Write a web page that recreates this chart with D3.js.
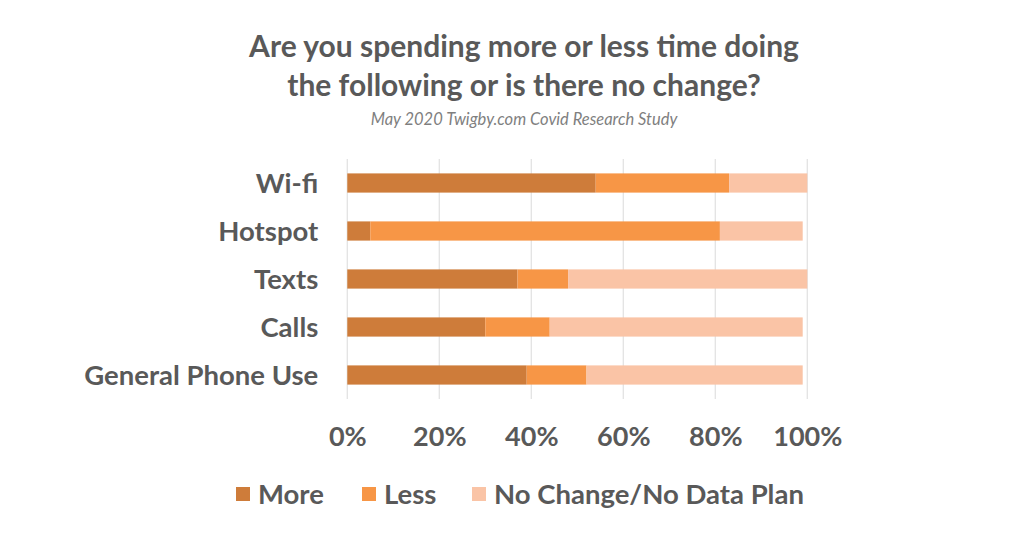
<!DOCTYPE html>
<html>
<head>
<meta charset="utf-8">
<script src="https://cdn.jsdelivr.net/npm/d3@7"></script>
<style>
  html, body { margin: 0; padding: 0; background: #fff; }
  svg { display: block; }
  text { font-family: Lato, "Open Sans", sans-serif; fill: #595959; }
</style>
</head>
<body>
<svg id="chart" width="1024" height="536"></svg>
<script>
const categories = ["Wi-fi", "Hotspot", "Texts", "Calls", "General Phone Use"];
const seriesNames = ["More", "Less", "No Change/No Data Plan"];
const moreValues = [54, 5, 37, 30, 39];
const lessValues = [29, 76, 11, 14, 13];
const noChangeValues = [17, 18, 52, 55, 47];
const tickValues = [0, 20, 40, 60, 80, 100];
const colors = ["#CE7C3A", "#F79646", "#FAC4A6"];

const svg = d3.select("#chart");
const plotLeft = 347.3, plotRight = 807.3, plotTop = 159, plotBottom = 399;

// Titles
svg.append("text").attr("x", 524).attr("y", 57).attr("text-anchor", "middle")
  .style("font-size", "30px").style("font-weight", "700")
  .text("Are you spending more or less time doing");
svg.append("text").attr("x", 524).attr("y", 96).attr("text-anchor", "middle")
  .style("font-size", "30px").style("font-weight", "700")
  .text("the following or is there no change?");
svg.append("text").attr("x", 524).attr("y", 125).attr("text-anchor", "middle")
  .style("font-size", "16.5px").style("font-style", "italic").style("fill", "#7f7f7f")
  .text("May 2020 Twigby.com Covid Research Study");

const x = d3.scaleLinear().domain([0, 100]).range([plotLeft, plotRight]);
const y = d3.scaleBand().domain(categories).range([plotTop, plotBottom])
  .paddingInner(0.6).paddingOuter(0.3);

// gridlines
svg.append("g").selectAll("line").data(tickValues).join("line")
  .attr("x1", d => x(d)).attr("x2", d => x(d))
  .attr("y1", plotTop).attr("y2", plotBottom)
  .attr("stroke", "#e3e3e3").attr("stroke-width", 1.3);

const rows = categories.map((c, i) => ({
  cat: c, More: moreValues[i], Less: lessValues[i], "No Change/No Data Plan": noChangeValues[i]
}));
const stack = d3.stack().keys(seriesNames)(rows);

svg.append("g").selectAll("g").data(stack).join("g")
  .attr("fill", (d, i) => colors[i])
  .selectAll("rect").data(d => d).join("rect")
  .attr("x", d => x(d[0]))
  .attr("width", d => x(d[1]) - x(d[0]))
  .attr("y", d => y(d.data.cat))
  .attr("height", y.bandwidth());

// category axis
const yAxis = svg.append("g").attr("transform", `translate(${plotLeft - 29},0)`)
  .call(d3.axisLeft(y).tickSize(0).tickPadding(0));
yAxis.select(".domain").remove();
yAxis.selectAll("text").style("font-size", "27.5px").style("font-weight", "700")
  .style("font-family", "Lato, sans-serif").attr("fill", "#595959").attr("dy", "0.35em");

// x axis
const xAxis = svg.append("g").attr("transform", `translate(0,${plotBottom})`)
  .call(d3.axisBottom(x).tickValues(tickValues).tickFormat(d => d + "%").tickSize(0).tickPadding(28));
xAxis.select(".domain").remove();
xAxis.selectAll("text").style("font-size", "27px").style("font-weight", "700")
  .style("font-family", "Lato, sans-serif").attr("fill", "#595959");

// legend
const legendX = [236, 362, 472];
const lg = svg.append("g").selectAll("g").data(seriesNames).join("g")
  .attr("transform", (d, i) => `translate(${legendX[i]},487)`);
lg.append("rect").attr("width", 14).attr("height", 14).attr("fill", (d, i) => colors[i]);
lg.append("text").attr("x", 22).attr("y", 7).attr("dy", "0.36em")
  .style("font-size", "27.5px").style("font-weight", "700").text(d => d);
</script>
</body>
</html>
